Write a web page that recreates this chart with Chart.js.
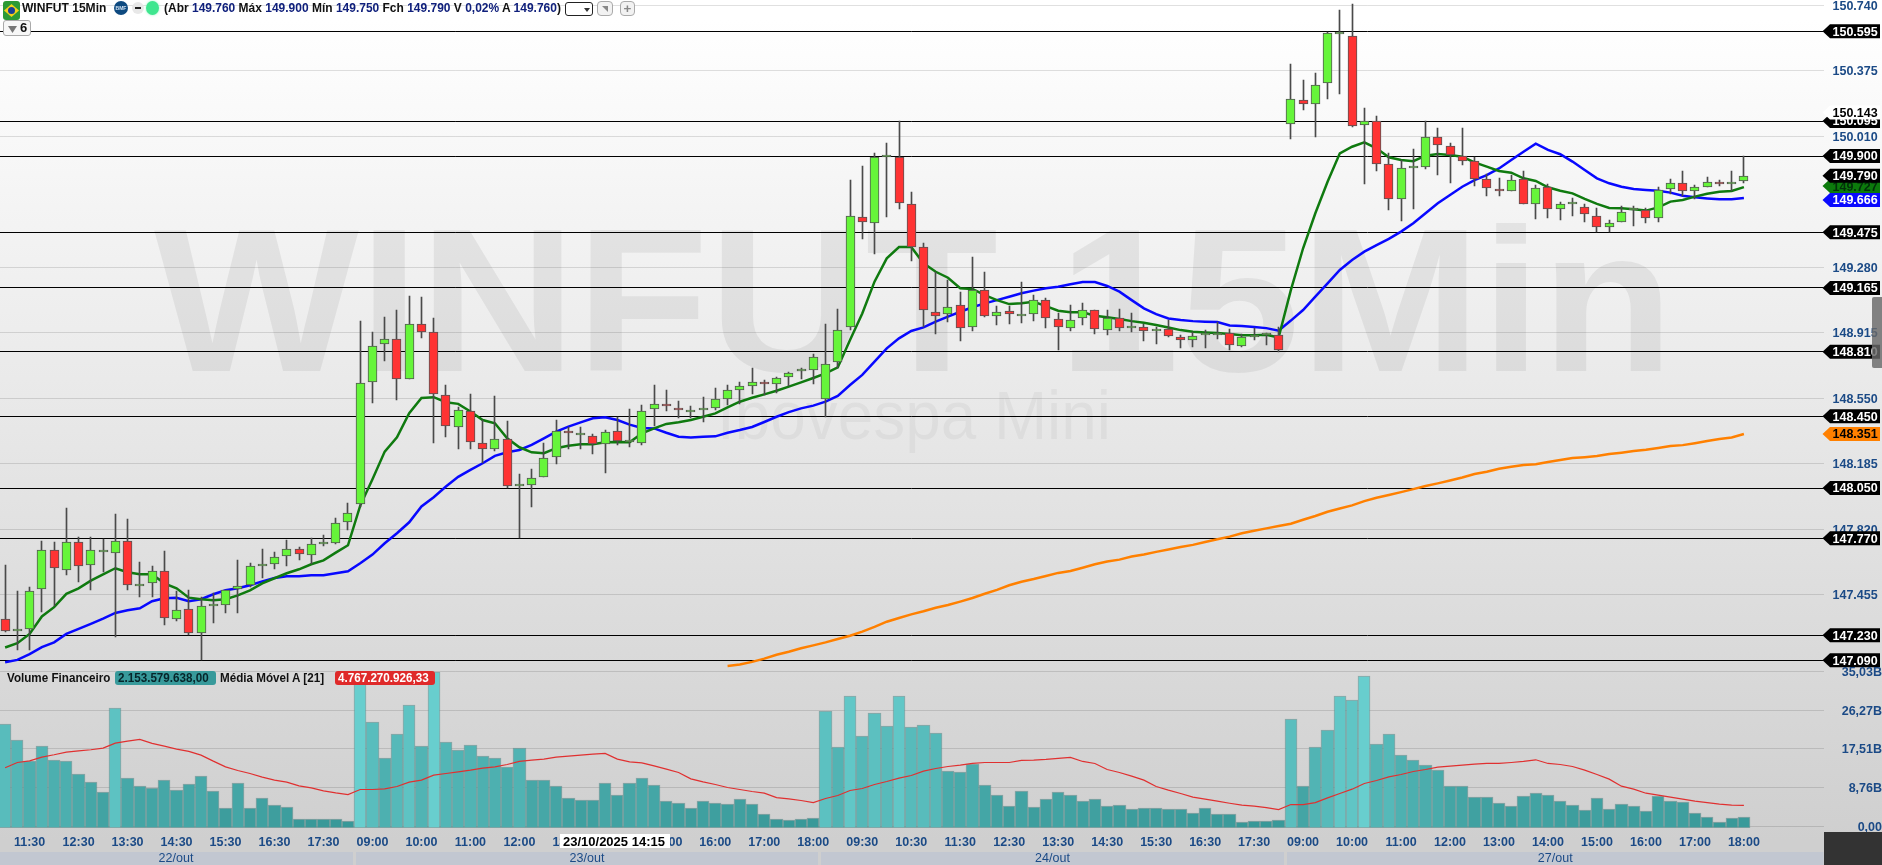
<!DOCTYPE html>
<html lang="pt-BR">
<head>
<meta charset="utf-8">
<title>WINFUT 15Min</title>
<script src="https://cdn.jsdelivr.net/npm/chart.js@4"></script>
<style>
html,body{margin:0;padding:0;width:1882px;height:865px;overflow:hidden;background:linear-gradient(#fff 0,#fff 20px,#cfcfcf 840px);}
canvas{position:absolute;display:block;}
#cPrice{left:-1px;top:0;}
#cVol{left:-1px;top:660px;}
.t{position:absolute;white-space:nowrap;font-family:"Liberation Sans",Arial,sans-serif;font-weight:bold;font-size:13.4px;line-height:14px;color:#111;z-index:5;transform-origin:left center;}
.t b{color:#10207c;font-weight:bold;}
.i{position:absolute;z-index:5;box-sizing:border-box;}
</style>
</head>
<body>
<canvas id="cPrice" width="1883" height="668"></canvas>
<canvas id="cVol" width="1883" height="205"></canvas>

<div class="i" style="left:3px;top:1px;width:17px;height:19px;background:#2c9a35;border-radius:3px"></div>
<div class="i" style="left:4px;top:4px;width:15px;height:13px;background:#f4d21a;clip-path:polygon(50% 0,100% 50%,50% 100%,0 50%)"></div>
<div class="i" style="left:8px;top:7px;width:7px;height:7px;background:#1b3f94;border-radius:50%"></div>
<div class="t" style="left:22px;top:1px;transform:scaleX(.9)">WINFUT 15Min</div>
<div class="i" style="left:114px;top:1px;width:14px;height:14px;background:#0e4a80;border-radius:50%;color:#cfe0f0;font:bold 5px/14px 'Liberation Sans',Arial,sans-serif;text-align:center">BMF</div>
<div class="i" style="left:132px;top:2px;width:12px;height:12px;background:#e8e8e8;border-radius:50%"></div>
<div class="i" style="left:135px;top:7px;width:6px;height:2px;background:#222"></div>
<div class="i" style="left:146px;top:1px;width:13px;height:14px;background:#3fe68f;border-radius:50%;box-shadow:0 0 3px #9ff5c8"></div>
<div class="t" id="hdrText" style="left:164px;top:1px;transform:scaleX(.895)">(Abr <b>149.760</b> Máx <b>149.900</b> Mín <b>149.750</b> Fch <b>149.790</b> V <b>0,02%</b> A <b>149.760</b>)</div>
<div class="i" style="left:565px;top:2px;width:28px;height:14px;background:#fff;border:1px solid #222;border-radius:3px"></div>
<div class="i" style="left:584px;top:8px;width:6px;height:4px;background:#333;clip-path:polygon(0 0,100% 0,50% 100%)"></div>
<div class="i" style="left:597px;top:1px;width:16px;height:15px;background:#f2f2f2;border:1px solid #aaa;border-radius:4px"></div>
<div class="i" style="left:602px;top:6px;width:6px;height:6px;background:#888;clip-path:polygon(0 0,100% 0,100% 100%)"></div>
<div class="t" style="left:620px;top:1px;width:15px;height:15px;text-align:center;color:#888;border:1px solid #aaa;border-radius:4px;box-sizing:border-box;background:#f2f2f2;line-height:13px">+</div>
<div class="i" style="left:3px;top:20px;width:28px;height:16px;background:#f7f7f7;border:1px solid #aaa;border-radius:3px"></div>
<div class="i" style="left:8px;top:26px;width:9px;height:7px;background:#777;clip-path:polygon(0 0,100% 0,50% 100%)"></div>
<div class="t" style="left:20px;top:21px;font-size:13px">6</div>

<div class="t" style="left:7px;top:671px;transform:scaleX(.87)">Volume Financeiro</div>
<div class="i" style="left:115px;top:671px;width:101px;height:14px;background:#389a9b;border-radius:3px"></div>
<div class="t" style="left:118px;top:671px;transform:scaleX(.87);color:#06252a">2.153.579.638,00</div>
<div class="t" style="left:220px;top:671px;transform:scaleX(.87)">Média Móvel A [21]</div>
<div class="i" style="left:335px;top:671px;width:100px;height:14px;background:#df2a2a;border-radius:3px"></div>
<div class="t" style="left:338px;top:671px;transform:scaleX(.87);color:#fff">4.767.270.926,33</div>

<div class="i" style="left:1872px;top:297px;width:10px;height:71px;background:rgba(105,105,105,.82);border-radius:2px 0 0 2px"></div>
<div class="i" style="left:1824px;top:832px;width:58px;height:33px;background:#333"></div>

<script>
// ---- Time axis -------------------------------------------------------------
const sessionTimes = ["08:45","09:00","09:15","09:30","09:45","10:00","10:15","10:30","10:45","11:00","11:15","11:30","11:45","12:00","12:15","12:30","12:45","13:00","13:15","13:30","13:45","14:00","14:15","14:30","14:45","15:00","15:15","15:30","15:45","16:00","16:15","16:30","16:45","17:00","17:15","17:30","17:45","18:00"];
const firstSessionTimes = ["11:00","11:15","11:30","11:45","12:00","12:15","12:30","12:45","13:00","13:15","13:30","13:45","14:00","14:15","14:30","14:45","15:00","15:15","15:30","15:45","16:00","16:15","16:30","16:45","17:00","17:15","17:30","17:45","18:00"];
const dayNames = ["22/out","23/out","24/out","27/out"];
const dayLengths = [29,38,38,38];
const emptySlots = ["","","","","",""];
const categories = [...firstSessionTimes,...sessionTimes,...sessionTimes,...sessionTimes,...emptySlots];

// ---- Candles ---------------------------------------------------------------
const opens = [147320,147255,147265,147485,147705,147595,147750,147620,147695,147690,
147755,147505,147520,147585,147320,147375,147240,147395,147400,147490,
147510,147615,147625,147670,147710,147675,147740,147745,147860,147960,
148640,148850,148880,148660,148965,148920,148570,148390,148480,148300,
148265,148325,148060,148065,148110,148225,148370,148345,148340,148295,
148365,148305,148300,148490,148520,148495,148475,148485,148495,148545,
148595,148620,148640,148630,148670,148700,148705,148545,148750,148945,
149560,149525,149895,149895,149635,149395,149030,149020,149070,148945,
149155,149010,149035,149010,149020,149100,148990,148940,148995,149040,
148930,149000,148940,148945,148925,148935,148890,148875,148900,148905,
148915,148840,148890,148905,148905,150080,150215,150190,150305,150580,
150570,150075,150095,149855,149660,149835,149840,150005,149955,149900,
149870,149770,149715,149705,149770,149630,149725,149605,149630,149615,
149565,149505,149530,149600,149600,149555,149715,149750,149705,149730,
149755,149745,149760];
const highs = [147620,147475,147500,147755,147750,147940,147775,147775,147765,147905,
147875,147640,147615,147700,147475,147480,147440,147465,147480,147650,
147630,147710,147695,147760,147720,147770,147790,147885,147965,148980,
148920,149005,149040,149120,149115,149000,148625,148500,148575,148430,
148560,148425,148130,148155,148300,148430,148390,148390,148350,148375,
148445,148490,148510,148625,148595,148535,148505,148555,148605,148625,
148640,148720,148650,148670,148695,148720,148795,148965,149045,149765,
149845,149915,149975,150095,149700,149415,149255,149210,149140,149335,
149255,149065,149065,149200,149125,149110,149025,149070,149080,149040,
149040,149045,149025,148965,148950,148985,148900,148920,148930,148975,
148935,148910,148940,148915,148950,150415,150325,150365,150590,150715,
150745,150170,150125,149915,149880,149940,150095,150055,149975,150055,
149895,149800,149780,149795,149815,149740,149745,149645,149665,149635,
149610,149545,149620,149620,149610,149725,149770,149815,149740,149785,
149765,149815,149900];
const lows = [147245,147150,147150,147360,147390,147565,147525,147480,147580,147220,
147480,147445,147440,147285,147310,147230,147090,147295,147355,147355,
147500,147550,147600,147615,147650,147625,147725,147740,147815,147945,
148525,148760,148540,148660,148885,148300,148335,148265,148265,148190,
148255,148050,147770,147945,148110,148185,148265,148270,148240,148135,
148290,148280,148290,148395,148480,148440,148440,148420,148485,148510,
148520,148575,148570,148580,148620,148655,148630,148445,148720,148930,
149435,149355,149560,149605,149315,148945,148910,148975,148870,148925,
149005,148960,148965,148970,148980,148940,148820,148925,148960,148910,
148900,148925,148920,148870,148850,148890,148830,148835,148830,148880,
148820,148835,148875,148845,148810,149995,150155,150005,150220,150245,
150060,149745,149815,149600,149540,149605,149830,149795,149750,149850,
149735,149675,149680,149705,149630,149550,149555,149545,149565,149530,
149475,149475,149530,149510,149525,149535,149690,149680,149660,149730,
149735,149705,149750];
const closes = [147255,147255,147475,147705,147605,147750,147615,147705,147695,147755,
147510,147505,147585,147325,147370,147240,147395,147395,147480,147505,
147615,147625,147665,147710,147680,147740,147740,147855,147910,148635,
148840,148880,148660,148965,148920,148575,148395,148485,148305,148270,
148325,148060,148060,148105,148220,148370,148355,148345,148295,148360,
148310,148305,148480,148520,148505,148485,148475,148495,148545,148595,
148620,148640,148630,148665,148690,148700,148780,148740,148930,149565,
149530,149895,149895,149640,149395,149040,149010,149060,148940,149155,
149010,149030,149020,149010,149100,148995,148945,148985,149040,148935,
149000,148940,148940,148925,148935,148895,148875,148895,148900,148915,
148845,148890,148905,148905,148820,150220,150190,150295,150585,150580,
150070,150095,149855,149660,149835,149835,150005,149960,149905,149875,
149770,149720,149705,149765,149635,149720,149605,149635,149630,149575,
149505,149525,149590,149600,149555,149710,149750,149705,149725,149755,
149745,149745,149790];

// ---- Moving averages on price ----------------------------------------------
const greenAverage = [147161,147185,147237,147334,147386,147460,147491,147534,147569,147603,
147581,147569,147569,147519,147491,147439,147430,147425,147430,147452,
147480,147519,147547,147575,147597,147625,147647,147690,147731,147952,
148099,148253,148333,148467,148552,148556,148528,148519,148476,148429,
148411,148327,148277,148249,148244,148272,148285,148294,148294,148305,
148307,148305,148354,148382,148407,148416,148429,148447,148466,148499,
148531,148553,148572,148592,148615,148639,148663,148689,148722,148875,
149023,149200,149330,149393,149393,149302,149255,149222,149163,149159,
149125,149097,149075,149079,149088,149064,149038,149029,149029,149010,
149001,148992,148980,148971,148958,148945,148930,148921,148917,148914,
148908,148901,148901,148904,148889,149153,149386,149581,149757,149915,
149952,149976,149943,149893,149878,149871,149902,149911,149906,149896,
149865,149841,149817,149807,149776,149761,149726,149707,149692,149661,
149633,149611,149609,149603,149596,149614,149646,149655,149674,149690,
149701,149705,149727];
const blueAverage = [147079,147092,147124,147163,147190,147237,147265,147293,147322,147354,
147369,147380,147419,147436,147438,147419,147430,147458,147480,147491,
147508,147530,147549,147558,147558,147564,147564,147575,147586,147631,
147679,147742,147798,147859,147947,147999,148058,148112,148151,148188,
148229,148249,148262,148290,148327,148364,148392,148416,148439,148444,
148429,148403,148385,148382,148358,148336,148332,148336,148338,148358,
148373,148390,148418,148447,148473,148494,148509,148531,148563,148624,
148680,148754,148828,148884,148925,148945,148977,149005,149032,149057,
149079,149097,149116,149135,149150,149163,149172,149186,149198,149198,
149176,149144,149097,149051,149019,148995,148986,148980,148977,148975,
148956,148953,148947,148941,148927,148983,149042,149116,149190,149265,
149321,149367,149404,149438,149479,149525,149581,149637,149683,149729,
149766,149794,149831,149878,149924,149969,149934,149910,149869,149822,
149776,149748,149729,149716,149711,149707,149696,149679,149670,149664,
149659,149659,149666];
const orangeAverage = [null,null,null,null,null,null,null,null,null,null,
null,null,null,null,null,null,null,null,null,null,
null,null,null,null,null,null,null,null,null,null,
null,null,null,null,null,null,null,null,null,null,
null,null,null,null,null,null,null,null,null,null,
null,null,null,null,null,null,null,null,null,147058,
147066,147081,147099,147121,147138,147157,147173,147190,147209,147227,
147250,147276,147305,147326,147346,147363,147383,147398,147417,147437,
147461,147482,147508,147528,147543,147560,147577,147588,147606,147625,
147640,147651,147668,147679,147694,147707,147721,147733,147749,147764,
147779,147798,147812,147825,147838,147851,147873,147894,147918,147936,
147953,147977,147996,148011,148027,148044,148061,148076,148092,148109,
148128,148141,148157,148168,148178,148183,148195,148206,148217,148222,
148228,148239,148247,148256,148263,148273,148284,148289,148300,148312,
148323,148332,148351];

// ---- Volume (billions) and its 21-period average ---------------------------
const volumeB = [23.13,19.51,14.76,18.15,14.99,14.76,11.83,10.02,7.76,26.74,
10.92,9.11,8.66,10.47,8.21,9.57,11.37,7.98,4.14,9.79,
4.14,6.40,4.82,4.37,1.66,1.66,1.66,1.66,1.21,34.95,
23.58,15.44,20.87,27.42,18.15,34.80,19.06,17.25,18.38,15.89,
15.44,13.41,17.70,10.47,10.47,9.11,6.40,5.95,5.95,9.79,
7.08,9.79,10.92,9.34,5.73,5.27,4.14,5.73,5.27,5.05,
6.18,5.05,2.79,1.66,1.43,1.66,1.88,26.06,17.93,29.45,
20.41,25.61,22.67,29.45,22.45,22.90,21.09,12.50,12.28,14.09,
9.34,7.08,4.60,7.98,4.37,6.18,7.76,7.08,5.73,6.18,
4.60,4.82,3.92,4.14,4.14,3.92,3.92,3.01,4.14,2.79,
2.79,0.98,1.21,1.21,1.43,24.26,9.11,17.93,21.77,29.45,
28.55,33.97,18.61,20.87,16.12,14.99,13.86,12.73,9.11,9.11,
6.63,6.63,5.27,4.60,6.86,7.53,7.08,5.73,4.82,3.69,
6.40,3.92,5.05,4.60,3.47,6.86,5.73,5.50,3.01,2.11,
0.98,1.88,2.15];
const volumeAverageB = [13.26,14.46,14.84,15.67,16.20,16.80,17.10,17.33,17.70,18.83,
19.28,19.66,18.76,18.15,17.48,16.95,16.12,14.76,13.48,12.66,
11.98,11.15,10.47,10.02,9.19,8.74,8.06,7.61,7.23,8.36,
8.36,8.51,9.04,10.02,10.47,11.60,11.98,12.35,12.73,13.18,
13.48,14.01,14.69,14.99,15.22,15.67,15.89,16.12,16.35,16.50,
15.22,14.61,14.39,13.71,12.96,12.20,10.77,10.09,9.49,8.81,
8.36,7.91,7.53,6.55,6.25,5.88,5.42,6.33,7.01,8.14,
8.59,9.49,10.17,10.92,11.53,12.50,13.11,13.56,13.86,14.24,
14.46,14.46,14.46,14.92,14.99,15.14,15.37,15.59,14.69,14.24,
12.88,12.20,11.37,10.47,9.04,8.21,7.46,6.63,6.18,5.73,
5.27,4.82,4.60,4.29,3.84,4.97,4.97,5.42,6.48,7.46,
8.44,9.72,10.40,11.22,11.75,12.43,12.88,13.41,13.63,13.86,
14.09,14.24,14.24,14.46,14.69,15.07,14.24,14.01,13.56,12.73,
11.75,10.70,9.11,8.44,7.53,7.08,6.63,6.18,5.73,5.42,
5.05,4.82,4.77];

// ---- Axis values and level lines -------------------------------------------
const priceTicks = [150740,150375,150010,149280,148915,148550,148185,147820,147455];
const levelPrices = [150595,150095,149900,149475,149165,148810,148450,148050,147770,147230,147090];
const volumeTicks = [0,8.76,17.51,26.27,35.03];
const priceMin = 147047, priceMax = 150769.5;
const volMin = -0.32, volMax = 35.776;

// ---- Styles ----------------------------------------------------------------
const fontFam = '"Liberation Sans", Arial, sans-serif';
const navy = '#1b4a86';
const plotRight = 1824.5;
const axisWidth = 1883 - plotRight;
const gridColor = 'rgba(0,0,0,0.12)';
const fmtPrice = v => { const s = String(Math.round(v)); return s.slice(0,-3)+'.'+s.slice(-3); };
const fmtVol = v => v.toFixed(2).replace('.',',');
const noPad = s => { s.paddingTop = 0; s.paddingBottom = 0; s.paddingLeft = 0; s.paddingRight = 0; };

Chart.defaults.animation = false;
Chart.defaults.devicePixelRatio = 1;

// Pixel-snap bar marks so that wicks and bodies stay crisp.
const snapPrice = {
  id:'snapPrice',
  afterDatasetsUpdate(chart){
    chart.data.datasets.forEach((ds,di)=>{
      if(!ds.snap) return;
      chart.getDatasetMeta(di).data.forEach(el=>{
        if(el.skip) return;
        el.x = Math.floor(el.x)+0.5;
        el.width = ds.barThickness;
        el.y = Math.round(el.y);
        el.base = Math.round(el.base);
        if(ds.snap==='body' && Math.abs(el.y-el.base)<2) el.base = el.y+2;
      });
    });
  }
};
const snapVol = {
  id:'snapVol',
  afterDatasetsUpdate(chart){
    const s = chart.scales.x.getPixelForValue(1)-chart.scales.x.getPixelForValue(0);
    chart.data.datasets.forEach((ds,di)=>{
      if(ds.type==='line') return;
      chart.getDatasetMeta(di).data.forEach(el=>{
        const l = Math.round(el.x-s/2), r = Math.round(el.x+s/2);
        el.x = (l+r)/2; el.width = r-l;
        el.y = Math.round(el.y); el.base = Math.round(el.base);
      });
    });
  }
};

// Watermark and horizontal level lines behind the marks.
const backdrop = {
  id:'backdrop',
  beforeDatasetsDraw(chart){
    const c = chart.ctx, y = chart.scales.y, a = chart.chartArea;
    c.save();
    c.fillStyle = 'rgba(0,0,0,0.062)';
    c.textBaseline = 'alphabetic'; c.textAlign = 'left';
    c.font = 'bold 204px '+fontFam;
    let w = c.measureText('WINFUT 15Min').width;
    c.save(); c.translate(155,371); c.scale(1520/w,1); c.fillText('WINFUT 15Min',0,0); c.restore();
    c.fillStyle = 'rgba(0,0,0,0.04)';
    c.font = '68px '+fontFam;
    w = c.measureText('Ibovespa Mini').width;
    c.save(); c.translate(718,439); c.scale(394/w,1); c.fillText('Ibovespa Mini',0,0); c.restore();
    c.strokeStyle = '#000'; c.lineWidth = 1;
    levelPrices.forEach(p=>{
      const py = Math.floor(y.getPixelForValue(p))+0.5;
      c.beginPath(); c.moveTo(a.left,py); c.lineTo(a.right,py); c.stroke();
    });
    c.restore();
  }
};

function priceTag(c,py,text,bg,fg){
  const L = 1823.5, B = 1831, R = 1881, h = 7;
  c.beginPath(); c.moveTo(L,py); c.lineTo(B,py-h); c.lineTo(R,py-h); c.lineTo(R,py+h); c.lineTo(B,py+h); c.closePath();
  c.fillStyle = bg; c.fill();
  c.fillStyle = fg; c.textAlign='left'; c.textBaseline='middle';
  c.font = 'bold 12.5px '+fontFam;
  c.fillText(text,1833.5,py+1);
}
const tags = {
  id:'tags',
  afterDraw(chart){
    const c = chart.ctx, y = chart.scales.y;
    c.save();
    levelPrices.forEach(p=>priceTag(c,y.getPixelForValue(p),fmtPrice(p),'#000','#fff'));
    priceTag(c,y.getPixelForValue(150143),fmtPrice(150143),'#fff','#000');
    priceTag(c,y.getPixelForValue(149727)-1,fmtPrice(149727),'#0c7a0c','#02300a');
    priceTag(c,y.getPixelForValue(149666)+2,fmtPrice(149666),'#0a0aff','#fff');
    priceTag(c,y.getPixelForValue(149790),fmtPrice(149790),'#000','#fff');
    priceTag(c,y.getPixelForValue(148351),fmtPrice(148351),'#ff8000','#000');
    c.restore();
  }
};

const priceChart = new Chart(document.getElementById('cPrice'),{
  type:'bar',
  plugins:[snapPrice,backdrop,tags],
  data:{
    labels:categories,
    datasets:[
      {label:'Corpo',type:'bar',snap:'body',order:1,grouped:false,barThickness:9,minBarLength:2,borderWidth:1,borderColor:'#555',borderSkipped:false,
       data:opens.map((o,i)=>[o,closes[i]]),
       backgroundColor:opens.map((o,i)=>closes[i]>=o?'#66f53a':'#ff3333')},
      {label:'Pavio',type:'bar',snap:'wick',order:2,grouped:false,barThickness:1,borderWidth:0,backgroundColor:'#4a4a4a',
       data:lows.map((l,i)=>[l,highs[i]])},
      {label:'Média verde',type:'line',order:3,data:greenAverage,borderColor:'#0f7a0f',borderWidth:2.5,pointRadius:0,tension:0},
      {label:'Média azul',type:'line',order:4,data:blueAverage,borderColor:'#0808ff',borderWidth:2.5,pointRadius:0,tension:0},
      {label:'Média laranja',type:'line',order:5,data:orangeAverage,borderColor:'#ff8000',borderWidth:2.5,pointRadius:0,tension:0}
    ]
  },
  options:{
    responsive:false,
    events:[],
    layout:{padding:0},
    plugins:{legend:{display:false},tooltip:{enabled:false}},
    scales:{
      x:{type:'category',offset:true,display:false,grid:{display:false}},
      y:{
        position:'right',min:priceMin,max:priceMax,
        border:{display:false},
        grid:{color:gridColor,drawTicks:false,lineWidth:1},
        afterBuildTicks(s){s.ticks = priceTicks.map(v=>({value:v}));},
        afterFit(s){s.width = axisWidth; noPad(s);},
        ticks:{padding:9,labelOffset:1,color:navy,autoSkip:false,font:{family:'Liberation Sans',size:12.5,weight:'bold'},callback:v=>fmtPrice(v)}
      }
    }
  }
});

// Day band and hovered-time box under the volume pane.
const bottomBand = {
  id:'bottomBand',
  afterDraw(chart){
    const c = chart.ctx, x = chart.scales.x;
    c.save();
    const s = x.getPixelForValue(1)-x.getPixelForValue(0);
    let start = 0;
    dayNames.forEach((d,k)=>{
      const end = start+dayLengths[k];
      const l = k===0 ? 0 : Math.round(x.getPixelForValue(start)-s/2)+2;
      const r = k===dayNames.length-1 ? plotRight : Math.round(x.getPixelForValue(end-1)+s/2)-1;
      c.fillStyle = '#c2c7d1'; c.fillRect(l,192,r-l,13);
      c.fillStyle = navy; c.font = '12.5px '+fontFam; c.textAlign='center'; c.textBaseline='middle';
      c.fillText(d,(l+r)/2,199);
      start = end;
    });
    c.fillStyle = '#fff'; c.fillRect(561,174,110,14);
    c.fillStyle = '#000'; c.font = 'bold 13px '+fontFam; c.textAlign='left';
    c.fillText('23/10/2025 14:15',564,182);
    c.restore();
  }
};

const volShade = v => {
  const t = Math.min(1,Math.max(0,(v-1)/33));
  const mix = (a,b)=>Math.round(a+(b-a)*t);
  return 'rgb('+mix(56,104)+','+mix(152,206)+','+mix(152,206)+')';
};

const volumeChart = new Chart(document.getElementById('cVol'),{
  type:'bar',
  plugins:[snapVol,bottomBand],
  data:{
    labels:categories,
    datasets:[
      {label:'Média Móvel A [21]',type:'line',order:1,data:volumeAverageB,borderColor:'#e03030',borderWidth:1.2,pointRadius:0,tension:0},
      {label:'Volume Financeiro',type:'bar',order:2,data:volumeB,base:volMin,barPercentage:1,categoryPercentage:1,
       backgroundColor:volumeB.map(volShade),borderWidth:1,borderColor:'rgba(80,125,125,0.55)',borderSkipped:false}
    ]
  },
  options:{
    responsive:false,
    events:[],
    layout:{padding:{top:8,left:0,right:0,bottom:0}},
    plugins:{legend:{display:false},tooltip:{enabled:false}},
    scales:{
      x:{
        type:'category',offset:true,
        border:{display:false},
        grid:{display:false,drawTicks:false},
        afterFit(s){s.height = 37; noPad(s);},
        ticks:{
          autoSkip:false,maxRotation:0,minRotation:0,padding:7,color:navy,
          font:{family:'Liberation Sans',size:12.5,weight:'bold'},
          callback(v,i){return (i%4===2 && i<143)?categories[i]:'';}
        }
      },
      y:{
        position:'right',min:volMin,max:volMax,
        border:{display:false},
        grid:{color:gridColor,drawTicks:false},
        afterBuildTicks(s){s.ticks = volumeTicks.map(v=>({value:v}));},
        afterFit(s){s.width = axisWidth; noPad(s);},
        ticks:{padding:6,labelOffset:1,color:navy,crossAlign:'far',font:{family:'Liberation Sans',size:12.5,weight:'bold'},
          callback:v=>v===0?fmtVol(v):fmtVol(v)+'B'}
      }
    }
  }
});
</script>
</body>
</html>
